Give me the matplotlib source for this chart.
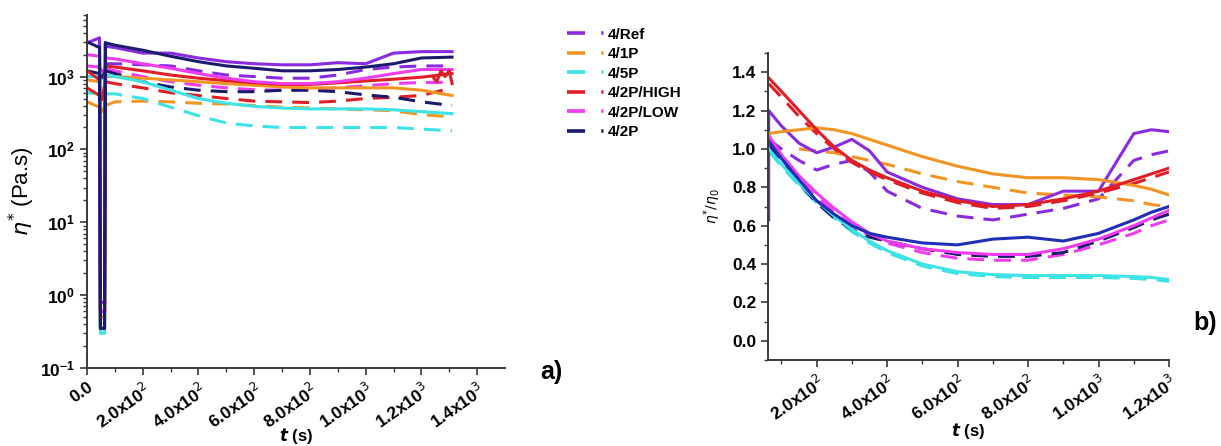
import numpy as np
import matplotlib
matplotlib.use("Agg")
import matplotlib.pyplot as plt
from matplotlib.lines import Line2D
from matplotlib.ticker import FixedLocator, MultipleLocator, LogLocator, NullFormatter

plt.rcParams['font.family'] = ['Liberation Sans', 'DejaVu Sans']

names = ['4/Ref', '4/1P', '4/5P', '4/2P/HIGH', '4/2P/LOW', '4/2P']
colors = ['#8a2be2', '#f39423', '#3de3e6', '#e01e26', '#f03cf0', '#1b1b6e']

# ---- panel a: eta* vs t (log) ----
# start segment (t=0, 45), drop minimum, then the main segment on t_a
t_pre = [0, 45]
t_a = [66, 100, 200, 300, 400, 500, 600, 700, 800, 900, 1000, 1100, 1200, 1310]

ref_pre, ref_min = [2900, 3400], 0.8
ref_a = [2600, 2500, 2100, 2100, 1800, 1600, 1500, 1450, 1450, 1550, 1500, 2100, 2200, 2200]
ref_a_d = [1500, 1500, 1450, 1400, 1200, 1050, 1000, 950, 950, 1050, 1250, 1350, 1400, 1400]

p1_pre, p1_min = [900, 850], 0.5
p1_a = [1000, 1000, 950, 900, 850, 800, 760, 720, 700, 700, 700, 700, 650, 550]
p1_pre_d = [450, 380]
p1_a_d = [400, 450, 460, 450, 430, 420, 400, 380, 370, 360, 350, 340, 300, 280]

p5_pre, p5_min = [1000, 1000], 0.3
p5_a = [1050, 1000, 850, 650, 500, 430, 390, 370, 360, 360, 360, 350, 330, 310]
p5_pre_d = [600, 580]
p5_a_d = [580, 580, 500, 380, 290, 230, 210, 200, 200, 200, 200, 200, 190, 180]

hi_pre, hi_min = [1200, 900], 0.6
hi_a = [1400, 1350, 1200, 1050, 950, 880, 820, 780, 780, 820, 870, 920, 980, 1100]
hi_zz_t = [1240, 1255, 1270, 1285, 1300, 1310]
hi_zz = [1000, 850, 1200, 1000, 1200, 800]
hi_pre_d = [700, 550]
hi_a_d = [850, 800, 700, 600, 550, 500, 460, 450, 440, 460, 500, 520, 550, 700]

lo_pre, lo_min = [2000, 1900], 0.6
lo_a = [1800, 1750, 1500, 1300, 1100, 950, 850, 800, 800, 850, 950, 1100, 1250, 1250]
lo_pre_d = [1400, 1350]
lo_a_d = [1300, 1200, 1000, 850, 760, 700, 660, 650, 660, 700, 750, 800, 830, 830]

p2_pre, p2_min = [3000, 2500], 0.35
p2_a = [2900, 2700, 2300, 1900, 1600, 1400, 1300, 1200, 1200, 1250, 1350, 1500, 1800, 1850]
p2_pre_d = [1200, 1100]
p2_a_d = [1200, 1100, 850, 720, 650, 620, 620, 650, 650, 620, 560, 520, 450, 400]

# ---- panel b: eta*/eta0 vs t ----
t_b = [64, 100, 150, 200, 250, 300, 350, 400, 500, 600, 700, 800, 900, 1000, 1100, 1150, 1200]
ref_b = [1.20, 1.12, 1.03, 0.98, 1.01, 1.05, 0.99, 0.88, 0.80, 0.74, 0.71, 0.71, 0.78, 0.78, 1.08, 1.10, 1.09]
ref_b0 = 0.63
ref_b_d = [1.05, 1.00, 0.94, 0.89, 0.92, 0.94, 0.88, 0.78, 0.69, 0.65, 0.63, 0.66, 0.69, 0.74, 0.94, 0.97, 0.99]
p1_b = [1.08, 1.09, 1.10, 1.11, 1.10, 1.08, 1.05, 1.02, 0.96, 0.91, 0.87, 0.85, 0.85, 0.84, 0.81, 0.79, 0.76]
p1_b_d = [np.nan, np.nan, 1.00, 0.99, 0.98, 0.96, 0.94, 0.92, 0.87, 0.83, 0.80, 0.77, 0.76, 0.75, 0.73, 0.71, 0.70]
p5_b = [1.00, 0.92, 0.82, 0.73, 0.65, 0.58, 0.52, 0.47, 0.40, 0.36, 0.345, 0.34, 0.34, 0.34, 0.335, 0.33, 0.32]
p5_b_d = [0.99, 0.91, 0.81, 0.72, 0.64, 0.57, 0.51, 0.46, 0.39, 0.35, 0.335, 0.33, 0.33, 0.33, 0.325, 0.32, 0.31]
hi_b = [1.37, 1.30, 1.20, 1.10, 1.01, 0.94, 0.89, 0.85, 0.78, 0.73, 0.70, 0.71, 0.74, 0.78, 0.84, 0.87, 0.90]
hi_b_d = [1.34, 1.27, 1.17, 1.08, 1.00, 0.93, 0.88, 0.84, 0.77, 0.72, 0.69, 0.70, 0.73, 0.77, 0.82, 0.85, 0.88]
lo_b = [1.07, 0.97, 0.86, 0.77, 0.69, 0.62, 0.56, 0.52, 0.48, 0.46, 0.45, 0.45, 0.48, 0.53, 0.60, 0.64, 0.68]
lo_b_d = [1.05, 0.95, 0.84, 0.75, 0.67, 0.60, 0.55, 0.51, 0.46, 0.43, 0.42, 0.42, 0.45, 0.50, 0.56, 0.60, 0.63]
p2_b = [1.04, 0.95, 0.84, 0.73, 0.66, 0.60, 0.56, 0.54, 0.51, 0.50, 0.53, 0.54, 0.52, 0.56, 0.63, 0.67, 0.70]
p2_b_d = [1.02, 0.93, 0.82, 0.72, 0.64, 0.58, 0.54, 0.52, 0.48, 0.45, 0.44, 0.44, 0.46, 0.52, 0.59, 0.63, 0.66]

lw = 2.2
dash = (0, (5.5, 3.3))
spine_c = '#3a3a3a'

fig = plt.figure(figsize=(12.21, 4.46), dpi=100)
ax1 = fig.add_axes([87/1221, 1-368/446, 418/1221, 353/446])
ax2 = fig.add_axes([768/1221, 1-360/446, 401/1221, 307/446])

solids_a = [(ref_pre, ref_min, ref_a), (p1_pre, p1_min, p1_a), (p5_pre, p5_min, p5_a),
            (hi_pre, hi_min, hi_a), (lo_pre, lo_min, lo_a), (p2_pre, p2_min, p2_a)]
dashed_a = [(None, ref_a_d), (p1_pre_d, p1_a_d), (p5_pre_d, p5_a_d),
            (hi_pre_d, hi_a_d), (lo_pre_d, lo_a_d), (p2_pre_d, p2_a_d)]

for (pre_d, post_d), c in zip(dashed_a, colors):
    if pre_d is not None:
        ax1.plot(t_pre + [52], pre_d + [pre_d[1] * 0.85], color=c, lw=lw, ls=dash)
        ax1.plot([52, t_a[0]], [pre_d[1] * 0.85, post_d[0]], color=c, lw=lw, ls=dash)
    ax1.plot(t_a, post_d, color=c, lw=lw, ls=dash)

for (pre, mn, post), c in zip(solids_a, colors):
    tt = t_pre + [48, 63] + t_a
    yy = pre + [mn, mn] + post
    ax1.plot(tt, yy, color=c, lw=lw)
ax1.plot(hi_zz_t, hi_zz, color=colors[3], lw=lw)
# navy drop on top
ax1.plot([45, 48, 63, 66], [p2_pre[1], p2_min, p2_min, p2_a[0]], color=colors[5], lw=lw)

ax1.set_yscale('log')
ax1.set_xlim(0, 1500)
ax1.set_ylim(0.1, 7000)
ax1.xaxis.set_major_locator(FixedLocator(np.arange(0, 1401, 200)))
ax1.xaxis.set_minor_locator(FixedLocator(np.arange(100, 1500, 200)))
ax1.yaxis.set_major_locator(LogLocator(base=10, numticks=10))
ax1.yaxis.set_minor_locator(LogLocator(base=10, subs=np.arange(2, 10), numticks=20))
ax1.yaxis.set_minor_formatter(NullFormatter())
xl_a = ['0.0'] + ['%.1fx10$^{%d}$' % ((v / 100, 2) if v < 1000 else (v / 1000, 3)) for v in range(200, 1401, 200)]
ax1.set_xticklabels(xl_a)
ax1.set_ylabel(r'$\eta^{*}$ (Pa.s)', fontsize=16, labelpad=2)
ax1.set_xlabel(r'$\mathbfit{t}$ (s)', fontsize=12, fontweight='bold', labelpad=-4)

# panel b
bsol = [ref_b, p1_b, p5_b, hi_b, lo_b, p2_b]
bdash = [ref_b_d, p1_b_d, p5_b_d, hi_b_d, lo_b_d, p2_b_d]
for yd, c in zip(bdash, colors):
    ax2.plot(t_b, yd, color=c, lw=lw, ls=dash)
for i, (ys, c) in enumerate(zip(bsol, colors)):
    if i == 0:
        ax2.plot([t_b[0]] + t_b, [ref_b0] + ys, color=c, lw=lw)
    elif i == 5:
        ax2.plot(t_b, ys, color='#1f2fb8', lw=lw)
    else:
        ax2.plot(t_b, ys, color=c, lw=lw)

ax2.set_xlim(62, 1200)
ax2.set_ylim(-0.1, 1.5)
ax2.xaxis.set_major_locator(FixedLocator(np.arange(200, 1201, 200)))
ax2.xaxis.set_minor_locator(FixedLocator(np.arange(100, 1200, 200)))
ax2.yaxis.set_major_locator(FixedLocator(np.arange(0, 1.41, 0.2)))
ax2.yaxis.set_minor_locator(MultipleLocator(0.1))
ax2.set_xticklabels(['%.1fx10$^{%d}$' % ((v / 100, 2) if v < 1000 else (v / 1000, 3)) for v in range(200, 1201, 200)])
ax2.set_yticklabels(['%.1f' % v for v in np.arange(0, 1.41, 0.2)])
ax2.set_ylabel(r'$\eta^{*}/\eta_{0}$', fontsize=10, labelpad=6)
ax2.set_xlabel(r'$\mathbfit{t}$ (s)', fontsize=12, fontweight='bold', labelpad=-2)

for ax in (ax1, ax2):
    for s in ('top', 'right'):
        ax.spines[s].set_visible(False)
    for s in ('left', 'bottom'):
        ax.spines[s].set_color(spine_c)
        ax.spines[s].set_linewidth(1.4)
    ax.tick_params(which='major', length=5, width=1.2, color=spine_c, labelsize=12.5)
    ax.tick_params(which='minor', length=3, width=1.0, color=spine_c)
    for lab in ax.get_xticklabels():
        lab.set_rotation(35)
        lab.set_ha('right')
        lab.set_va('top')
        lab.set_rotation_mode('anchor')
        lab.set_fontweight('bold')
    for lab in ax.get_yticklabels():
        lab.set_fontweight('bold')

handles = [Line2D([], [], color=c, lw=2.6, ls=(0, (5, 4.5, 0.6, 60))) for c in colors]
fig.legend(handles, names, loc='upper left', bbox_to_anchor=(553/1221, 1 - 14/446),
           frameon=False, handlelength=2.6, handletextpad=0.1, labelspacing=0.36,
           prop={'weight': 'bold', 'size': 11})

fig.text(540/1221, 1 - 372/446, 'a)', fontsize=18, fontweight='bold', va='center')
fig.text(1193/1221, 1 - 323/446, 'b)', fontsize=18, fontweight='bold', va='center')

fig.savefig('out.png', dpi=100)
